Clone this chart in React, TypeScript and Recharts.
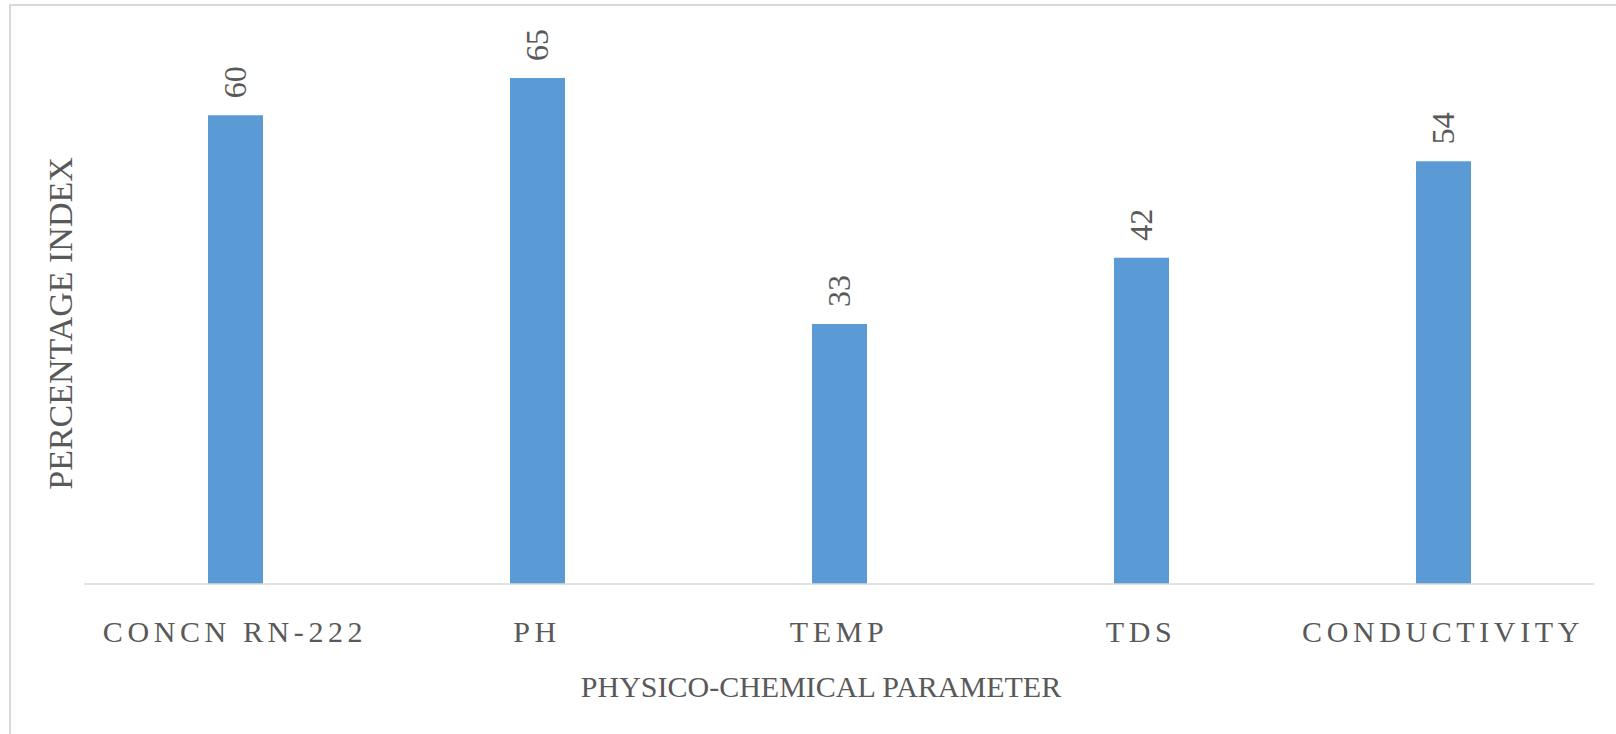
import React from 'react';
import { BarChart, Bar, XAxis, YAxis, LabelList, Label, Customized } from 'recharts';

const categories = ['CONCN RN-222', 'PH', 'TEMP', 'TDS', 'CONDUCTIVITY'];
const values = [60.2, 65, 33.4, 41.9, 54.3];
const yTitle = 'PERCENTAGE INDEX';
const xTitle = 'PHYSICO-CHEMICAL PARAMETER';

const data = categories.map((name, i) => ({ name, value: values[i] }));

const FONT = '"Liberation Serif", "Times New Roman", serif';
const TEXT = '#595959';
const GRID = '#D9D9D9';
const BAR = '#5B9BD5';

const Tick = (props: any) => {
  const { x, y, payload } = props;
  return (
    <text
      x={x}
      y={y + 58}
      textAnchor="middle"
      fill={TEXT}
      fontFamily={FONT}
      fontSize={30}
      letterSpacing={4.6}
    >
      {String(payload.value)}
    </text>
  );
};

const BarLabel = (props: any) => {
  const { x, y, width, value } = props;
  const cx = Number(x) + Number(width) / 2 + 11;
  const ty = Number(y) - 17;
  return (
    <text
      x={cx}
      y={ty}
      transform={`rotate(-90 ${cx} ${ty})`}
      textAnchor="start"
      fill={TEXT}
      fontFamily={FONT}
      fontSize={32}
    >
      {String(Math.round(Number(value)))}
    </text>
  );
};

const XTitle = (props: any) => {
  const vb = props.viewBox || {};
  const cx = vb.x + vb.width / 2 - 18;
  const ty = vb.y + 113;
  return (
    <text x={cx} y={ty} textAnchor="middle" fill={TEXT} fontFamily={FONT} fontSize={30}>
      {xTitle}
    </text>
  );
};

const YTitle = (props: any) => {
  const vb = props.viewBox || {};
  const tx = vb.x + 72;
  const ty = vb.y + vb.height / 2 + 12;
  return (
    <text
      x={tx}
      y={ty}
      transform={`rotate(-90 ${tx} ${ty})`}
      textAnchor="middle"
      fill={TEXT}
      fontFamily={FONT}
      fontSize={34}
    >
      {yTitle}
    </text>
  );
};

const Border = () => (
  <rect x={10} y={5} width={1700} height={800} fill="none" stroke={GRID} strokeWidth={2} />
);

export default function App() {
  return (
    <div style={{ position: 'absolute', left: 0, top: 0, width: 1616, height: 734, background: '#fff' }}>
      <BarChart width={1616} height={734} data={data} margin={{ top: 39, right: 22, bottom: 90, left: 0 }}>
        <Customized component={Border} />
        <XAxis
          dataKey="name"
          height={60}
          interval={0}
          tickLine={false}
          tickSize={0}
          tickMargin={0}
          axisLine={{ stroke: GRID, strokeWidth: 1.5 }}
          tick={<Tick />}
        >
          <Label content={XTitle} />
        </XAxis>
        <YAxis width={84} domain={[0, 70]} allowDataOverflow tick={false} axisLine={false} tickLine={false}>
          <Label content={YTitle} />
        </YAxis>
        <Bar dataKey="value" fill={BAR} barSize={55} isAnimationActive={false}>
          <LabelList dataKey="value" content={BarLabel} />
        </Bar>
      </BarChart>
    </div>
  );
}
